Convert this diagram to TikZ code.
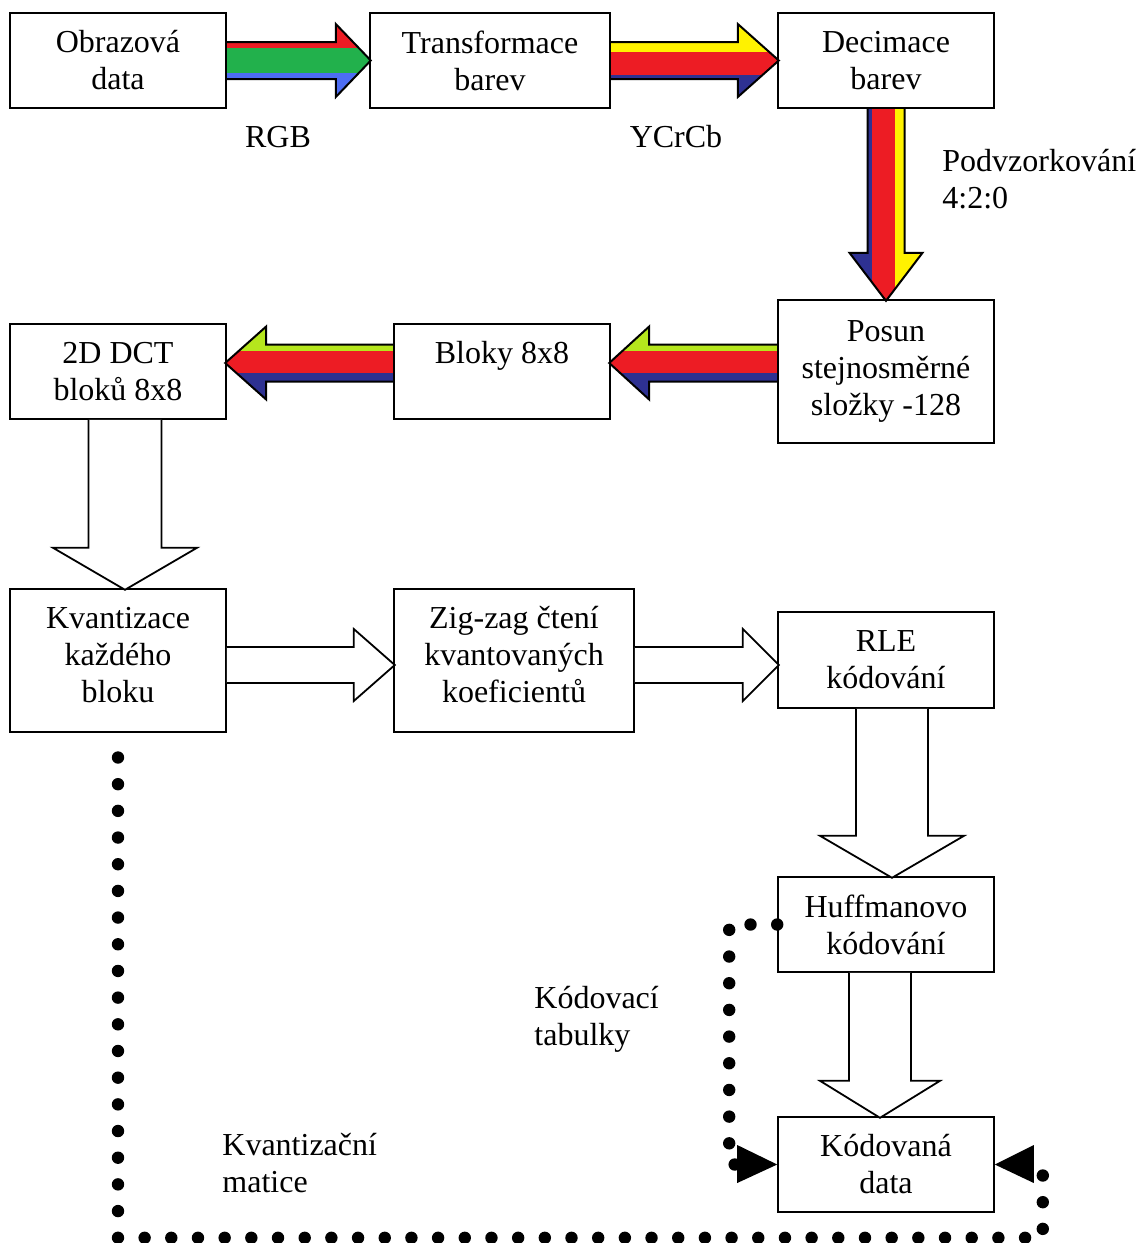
\documentclass[tikz,border=0pt]{standalone}
\usepackage{fontspec}
\setmainfont{Liberation Serif}
\usetikzlibrary{calc}
\definecolor{Cervena}{HTML}{ED1C24}
\definecolor{Zelena}{HTML}{22B14C}
\definecolor{Modra}{HTML}{4D6DF3}
\definecolor{Tmavomodra}{HTML}{2E3192}
\definecolor{Zluta}{HTML}{FFF200}
\definecolor{Limetka}{HTML}{B5E61D}
% pruhovana sipka: delka, hrot, horni, stredni, dolni barva, hranice pruhu
\newcommand{\pruhsipka}[7]{%
  \begin{scope}
    \clip (0,-18.5) -- (#1-#2,-18.5) -- (#1-#2,-36.5) -- (#1,0) -- (#1-#2,36.5) -- (#1-#2,18.5) -- (0,18.5) -- cycle;
    \fill[#4] (0,-40) rectangle (#1,40);
    \fill[#3] (0,-40) rectangle (#1,#6);
    \fill[#5] (0,#7) rectangle (#1,40);
  \end{scope}
  \draw[line width=1pt] (0,-18.5) -- (#1-#2,-18.5) -- (#1-#2,-36.5) -- (#1,0) -- (#1-#2,36.5) -- (#1-#2,18.5) -- (0,18.5);}
% bila sipka: delka, hrot, pulka driku, pulka hrotu
\newcommand{\bilasipka}[4]{%
  \draw[line width=0.9pt,fill=white] (0,-#3) -- (#1-#2,-#3) -- (#1-#2,-#4) -- (#1,0) -- (#1-#2,#4) -- (#1-#2,#3) -- (0,#3);}

\begin{document}
\begin{tikzpicture}[x=0.5pt,y=-0.5pt,
    font=\fontsize{16}{18.5}\selectfont,
    blok/.style={draw,line width=0.8pt,align=center,inner sep=0pt,minimum width=108pt,minimum height=47.5pt},
    popis/.style={anchor=west,align=left,inner sep=0pt},
    tecky/.style={line width=6.2pt,line cap=round,dash pattern=on 0pt off 13.34pt}]
  \useasboundingbox (0,0) rectangle (1138,1243);
  % bloky
  \node[blok] (obraz) at (118,60.5) {Obrazová\\data};
  \node[blok,minimum width=120pt] (transf) at (490,60.5) {Transformace\\barev};
  \node[blok] (decim) at (886,60.5) {Decimace\\barev};
  \node[blok,minimum height=71.5pt] (posun) at (886,371.5) {Posun\\stejnosměrné\\složky -128};
  \node[blok,text depth=19.5pt] (bloky) at (502,371.5) {Bloky 8x8};
  \node[blok] (dct) at (118,371.5) {2D DCT\\bloků 8x8};
  \node[blok,minimum height=71.5pt,text depth=6pt] (kvant) at (118,660.5) {Kvantizace\\každého\\bloku};
  \node[blok,minimum width=120pt,minimum height=71.5pt,text depth=6pt] (zigzag) at (514,660.5) {Zig-zag čtení\\kvantovaných\\koeficientů};
  \node[blok,minimum height=48pt] (rle) at (886,660) {RLE\\kódování};
  \node[blok] (huff) at (886,924.5) {Huffmanovo\\kódování};
  \node[blok] (kodov) at (886,1164.5) {Kódovaná\\data};
  % popisky
  \node (rgb) at (278,137) {RGB};
  \node (ycrcb) at (676,137) {YCrCb};
  \node[popis] (podvz) at (942,179.5) {Podvzorkování\\4:2:0};
  \node[popis] (tabulky) at (534,1019) {Kódovací\\tabulky};
  \node[popis] (matice) at (222,1163) {Kvantizační\\matice};
  % barevne sipky
  \begin{scope}[shift={(obraz.east)}]
    \pruhsipka{144}{35}{Cervena}{Zelena}{Modra}{-12.5}{12.5}
  \end{scope}
  \begin{scope}[shift={(transf.east)}]
    \pruhsipka{168}{41}{Zluta}{Cervena}{Tmavomodra}{-8.5}{14.5}
  \end{scope}
  \begin{scope}[shift={(decim.south)},rotate=-90]
    \pruhsipka{192}{48}{Zluta}{Cervena}{Tmavomodra}{-9}{14}
  \end{scope}
  \begin{scope}[shift={($(posun.west)+(0,-8.5)$)},xscale=-1]
    \pruhsipka{168}{40}{Limetka}{Cervena}{Tmavomodra}{-12.5}{9.5}
  \end{scope}
  \begin{scope}[shift={($(bloky.west)+(0,-8.5)$)},xscale=-1]
    \pruhsipka{168}{41}{Limetka}{Cervena}{Tmavomodra}{-12.5}{9.5}
  \end{scope}
  % bile sipky
  \begin{scope}[shift={($(dct.south)+(7,0)$)},rotate=-90]
    \bilasipka{170}{42}{36.5}{72}
  \end{scope}
  \begin{scope}[shift={($(kvant.east)+(0,4.5)$)}]
    \bilasipka{168}{41}{18}{36}
  \end{scope}
  \begin{scope}[shift={($(zigzag.east)+(0,4.5)$)}]
    \bilasipka{144}{36}{18}{36}
  \end{scope}
  \begin{scope}[shift={($(rle.south)+(6,0)$)},rotate=-90]
    \bilasipka{169}{42}{36}{72}
  \end{scope}
  \begin{scope}[shift={($(huff.south)+(-6,0)$)},rotate=-90]
    \bilasipka{145}{37}{31}{60}
  \end{scope}
  % teckovane cary
  \draw[tecky] ($(kodov.east)+(48,11)$) |- ($(kvant.south)+(0,505)$) -- ($(kvant.south)+(0,23)$);
  \fill (kodov.east) -- ++(39,-19.5) -- ++(0,38) -- cycle;
  \draw[tecky] (huff.west) -- ++(-48,0) |- ($(kodov.west)+(-40,0)$);
  \fill (kodov.west) -- ++(-40,-19.5) -- ++(0,38) -- cycle;
\end{tikzpicture}
\end{document}
